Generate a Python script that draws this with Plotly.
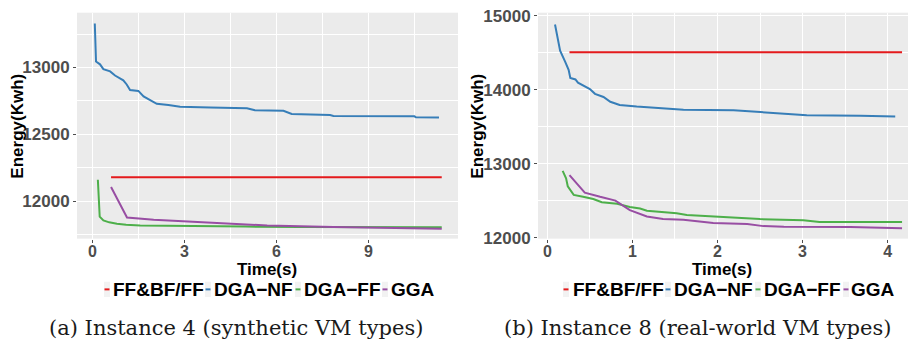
import plotly.graph_objects as go
from plotly.subplots import make_subplots

# ---------------- data ----------------
series_names = ["FF&BF/FF", "DGA−NF", "DGA−FF", "GGA"]
series_colors = ["#E41A1C", "#377EB8", "#4DAF4A", "#984EA3"]

# Panel (a): Instance 4 (synthetic VM types)
a_ff_t = [0.61, 11.39]
a_ff_e = [12180, 12180]
a_nf_t = [0.08, 0.12, 0.25, 0.36, 0.58, 0.74, 1.01, 1.12, 1.23, 1.50, 1.67, 1.88, 2.10,
          2.48, 2.86, 3.84, 5.04, 5.30, 6.23, 6.50, 7.75, 7.86, 10.50, 10.55, 11.30]
a_nf_e = [13329, 13045, 13024, 12988, 12971, 12940, 12904, 12873, 12832, 12825, 12784, 12760, 12729,
          12719, 12707, 12700, 12696, 12681, 12676, 12652, 12645, 12638, 12635, 12628, 12626]
a_dff_t = [0.18, 0.24, 0.36, 0.55, 0.80, 1.10, 1.56, 2.50, 3.50, 5.00, 6.80, 9.00, 11.39]
a_dff_e = [12160, 11885, 11856, 11842, 11832, 11824, 11818, 11815, 11813, 11810, 11808, 11807, 11806]
a_gga_t = [0.61, 1.13, 2.00, 2.98, 4.50, 5.70, 7.86, 9.50, 11.39]
a_gga_e = [12106, 11878, 11862, 11849, 11832, 11818, 11808, 11801, 11794]

# Panel (b): Instance 8 (real-world VM types)
b_ff_t = [0.26, 4.17]
b_ff_e = [14505, 14505]
b_nf_t = [0.09, 0.15, 0.21, 0.25, 0.27, 0.33, 0.36, 0.46, 0.50, 0.56, 0.66, 0.74, 0.85,
          1.05, 1.21, 1.60, 2.19, 2.50, 2.78, 3.05, 3.68, 4.09]
b_nf_e = [14880, 14527, 14376, 14268, 14160, 14139, 14096, 14031, 14010, 13945, 13902, 13838, 13795,
          13773, 13760, 13730, 13722, 13696, 13674, 13657, 13649, 13640]
b_dff_t = [0.18, 0.22, 0.24, 0.31, 0.42, 0.54, 0.64, 0.82, 0.97, 1.09, 1.17, 1.52, 1.64,
           1.95, 2.23, 2.50, 3.01, 3.20, 4.17]
b_dff_e = [12904, 12805, 12697, 12581, 12555, 12525, 12482, 12460, 12418, 12396, 12366, 12332, 12310,
           12289, 12276, 12254, 12237, 12215, 12215]
b_gga_t = [0.26, 0.44, 0.62, 0.80, 0.97, 1.17, 1.36, 1.60, 1.95, 2.35, 2.54, 2.78, 3.56, 3.95, 4.17]
b_gga_e = [12848, 12611, 12555, 12504, 12375, 12289, 12254, 12245, 12202, 12189, 12159, 12150, 12146,
           12129, 12129]

a_xticks = [0, 3, 6, 9]
a_yticks = [12000, 12500, 13000]
b_xticks = [0, 1, 2, 3, 4]
b_yticks = [12000, 13000, 14000, 15000]

captions = ["(a) Instance 4 (synthetic VM types)", "(b) Instance 8 (real-world VM types)"]
x_title = "Time(s)"
y_title = "Energy(Kwh)"

# ---------------- figure ----------------
W, H = 908, 352
fig = make_subplots(rows=1, cols=2)

panel_a = [(a_ff_t, a_ff_e), (a_nf_t, a_nf_e), (a_dff_t, a_dff_e), (a_gga_t, a_gga_e)]
panel_b = [(b_ff_t, b_ff_e), (b_nf_t, b_nf_e), (b_dff_t, b_dff_e), (b_gga_t, b_gga_e)]

for col, panel in ((1, panel_a), (2, panel_b)):
    for (t, e), name, color in zip(panel, series_names, series_colors):
        fig.add_trace(go.Scatter(x=t, y=e, mode="lines", name=name,
                                 line=dict(color=color, width=2),
                                 showlegend=False), row=1, col=col)

BG = "#EBEBEB"
tickfont = dict(family="Liberation Sans, Arial, sans-serif", size=17, color="#4D4D4D")
xtickfont = dict(family="Liberation Sans, Arial, sans-serif", size=16, color="#4D4D4D")
common = dict(showgrid=True, gridcolor="white", gridwidth=1.4, zeroline=False,
              ticks="outside", ticklen=3, tickcolor="#4D4D4D", tickwidth=1,
              showline=False)


def bold(vals):
    return ["<b>%d</b>" % v for v in vals]


def px2x(px):
    return px / W


def px2y(py):
    return 1 - py / H


fig.update_layout(
    width=W, height=H, margin=dict(l=0, r=0, t=0, b=0),
    paper_bgcolor="white", plot_bgcolor=BG,
    xaxis=dict(domain=[px2x(77), px2x(458)], range=[-0.5, 11.92], tickvals=a_xticks,
               ticktext=bold(a_xticks), ticklabelstandoff=-5, tickfont=xtickfont,
               minor=dict(dtick=1.5, tick0=1.5, showgrid=True, gridcolor="white", gridwidth=0.6, ticks=""),
               **common),
    yaxis=dict(domain=[px2y(243), px2y(7)], range=[11720, 13410], tickvals=a_yticks,
               ticktext=bold(a_yticks), tickfont=tickfont,
               minor=dict(dtick=500, tick0=11750, showgrid=True, gridcolor="white", gridwidth=0.6, ticks=""),
               **common),
    xaxis2=dict(domain=[px2x(538), 1.0], range=[-0.11, 4.24], tickvals=b_xticks,
                ticktext=bold(b_xticks), ticklabelstandoff=-5, tickfont=xtickfont,
                minor=dict(dtick=1, tick0=0.5, showgrid=True, gridcolor="white", gridwidth=0.6, ticks=""),
                **common),
    yaxis2=dict(domain=[px2y(243), px2y(7)], range=[11990, 15040], tickvals=b_yticks,
                ticktext=bold(b_yticks), tickfont=tickfont,
                minor=dict(dtick=1000, tick0=12500, showgrid=True, gridcolor="white", gridwidth=0.6, ticks=""),
                **common),
)

title_font = dict(family="Liberation Sans, Arial, sans-serif", size=17, color="black")
legend_font = dict(family="Liberation Sans, Arial, sans-serif", size=19, color="black")
cap_font = dict(family="DejaVu Serif, Liberation Serif, serif", size=21, color="#1A1A1A")

annotations = []
shapes = []

# axis titles
for cx in (px2x(267), px2x(722)):
    annotations.append(dict(text="<b>%s</b>" % x_title, x=cx, y=px2y(264), xref="paper", yref="paper",
                            showarrow=False, font=title_font, xanchor="center", yanchor="top",
                            borderpad=0))
for cx in (px2x(18), px2x(478)):
    annotations.append(dict(text="<b>%s</b>" % y_title, x=cx, y=px2y(126), xref="paper", yref="paper",
                            showarrow=False, font=title_font, textangle=-90,
                            xanchor="center", yanchor="middle"))

# legends (ggplot-style keys)
legend_keys = [[104, 205, 295, 382], [563, 665, 755, 843]]
legend_text = [[111, 212, 302, 389], [571, 672, 762, 849]]
ly = 296
for keys, texts in zip(legend_keys, legend_text):
    for kx, tx, name, color in zip(keys, texts, series_names, series_colors):
        shapes.append(dict(type="rect", xref="paper", yref="paper",
                           x0=px2x(kx), x1=px2x(kx + 6), y0=px2y(ly + 8), y1=px2y(ly - 8),
                           fillcolor="#F2F2F2", line=dict(width=0)))
        shapes.append(dict(type="line", xref="paper", yref="paper",
                           x0=px2x(kx + 0.5), x1=px2x(kx + 5.5), y0=px2y(ly), y1=px2y(ly),
                           line=dict(color=color, width=2)))
        annotations.append(dict(text="<b>%s</b>" % name, x=px2x(tx), y=px2y(ly), xref="paper", yref="paper",
                                showarrow=False, font=legend_font, xanchor="left", yanchor="middle"))

# captions
for cx, cap in zip((px2x(236), px2x(697)), captions):
    annotations.append(dict(text=cap, x=cx, y=px2y(336), xref="paper", yref="paper",
                            showarrow=False, font=cap_font, xanchor="center", yanchor="middle"))

fig.update_layout(annotations=annotations, shapes=shapes)
fig.write_html("out.html")
